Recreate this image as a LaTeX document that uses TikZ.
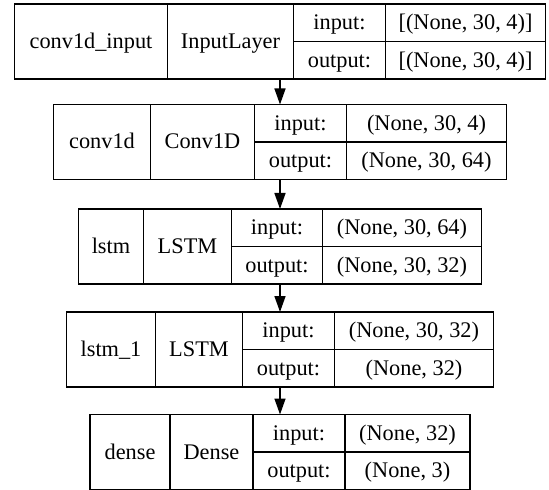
\documentclass[tikz,border=0pt]{standalone}
\usepackage{fontspec}
\setmainfont{Liberation Serif}
\usetikzlibrary{arrows.meta,positioning}

\tikzset{
  layer/.style={draw,line width=1.5bp,minimum height=75bp,inner sep=0pt,outer sep=0pt},
  cell/.style={draw,line width=1.5bp,minimum height=75bp,inner sep=0pt,outer sep=0pt,
    text height=16bp,text depth=2bp,font=\fontsize{22.4}{26}\selectfont},
  half/.style={cell,minimum height=37.5bp},
  flow/.style={-{Triangle[length=16bp,width=11bp]},line width=1.5bp}
}

\begin{document}
\begin{tikzpicture}[x=1bp,y=-1bp]
\useasboundingbox (0,0) rectangle (549,490);
% conv1d_input
\node[layer,minimum width=531bp] (l1) at (280,41.5) {};
\node[cell,minimum width=153bp,right=0pt of l1.west] (l1name) {conv1d\_input};
\node[cell,minimum width=126bp,right=0pt of l1name] (l1type) {InputLayer};
\node[half,minimum width=92bp,anchor=north west] (l1in) at (l1type.north east) {input:};
\node[half,minimum width=92bp,below=0pt of l1in] (l1out) {output:};
\node[half,minimum width=160bp,right=0pt of l1in] (l1inv) {[(None, 30, 4)]};
\node[half,minimum width=160bp,right=0pt of l1out] (l1outv) {[(None, 30, 4)]};
% conv1d
\node[layer,minimum width=453bp] (l2) at (280,142) {};
\node[cell,minimum width=97bp,right=0pt of l2.west] (l2name) {conv1d};
\node[cell,minimum width=104bp,right=0pt of l2name] (l2type) {Conv1D};
\node[half,minimum width=92bp,anchor=north west] (l2in) at (l2type.north east) {input:};
\node[half,minimum width=92bp,below=0pt of l2in] (l2out) {output:};
\node[half,minimum width=160bp,right=0pt of l2in] (l2inv) {(None, 30, 4)};
\node[half,minimum width=160bp,right=0pt of l2out] (l2outv) {(None, 30, 64)};
% lstm
\node[layer,minimum width=403bp] (l3) at (280,246.5) {};
\node[cell,minimum width=65bp,right=0pt of l3.west] (l3name) {lstm};
\node[cell,minimum width=88bp,right=0pt of l3name] (l3type) {LSTM};
\node[half,minimum width=91bp,anchor=north west] (l3in) at (l3type.north east) {input:};
\node[half,minimum width=91bp,below=0pt of l3in] (l3out) {output:};
\node[half,minimum width=159bp,right=0pt of l3in] (l3inv) {(None, 30, 64)};
\node[half,minimum width=159bp,right=0pt of l3out] (l3outv) {(None, 30, 32)};
% lstm_1
\node[layer,minimum width=427bp] (l4) at (280,349.5) {};
\node[cell,minimum width=89bp,right=0pt of l4.west] (l4name) {lstm\_1};
\node[cell,minimum width=87bp,right=0pt of l4name] (l4type) {LSTM};
\node[half,minimum width=92bp,anchor=north west] (l4in) at (l4type.north east) {input:};
\node[half,minimum width=92bp,below=0pt of l4in] (l4out) {output:};
\node[half,minimum width=159bp,right=0pt of l4in] (l4inv) {(None, 30, 32)};
\node[half,minimum width=159bp,right=0pt of l4out] (l4outv) {(None, 32)};
% dense
\node[layer,minimum width=380bp] (l5) at (280,452) {};
\node[cell,minimum width=80bp,right=0pt of l5.west] (l5name) {dense};
\node[cell,minimum width=83bp,right=0pt of l5name] (l5type) {Dense};
\node[half,minimum width=92bp,anchor=north west] (l5in) at (l5type.north east) {input:};
\node[half,minimum width=92bp,below=0pt of l5in] (l5out) {output:};
\node[half,minimum width=125bp,right=0pt of l5in] (l5inv) {(None, 32)};
\node[half,minimum width=125bp,right=0pt of l5out] (l5outv) {(None, 3)};
% edges
\draw[flow] (l1) -- (l2);
\draw[flow] (l2) -- (l3);
\draw[flow] (l3) -- (l4);
\draw[flow] (l4) -- (l5);
\end{tikzpicture}
\end{document}
